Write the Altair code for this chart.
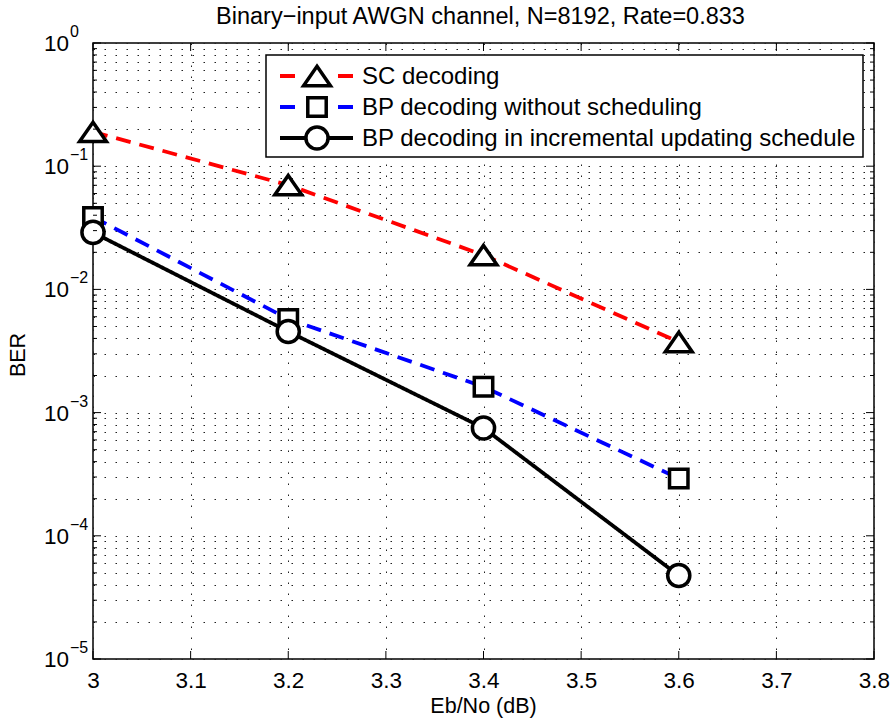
import altair as alt
import pandas as pd

# ---------------- data ----------------
ebno = [3.0, 3.2, 3.4, 3.6]
ber_sc = [0.19, 0.0703, 0.019, 0.00374]
ber_bp = [0.0387, 0.00575, 0.00162, 0.000292]
ber_inc = [0.029, 0.00455, 0.00075, 0.0000476]

series_names = [
    "SC decoding",
    "BP decoding without scheduling",
    "BP decoding in incremental updating schedule",
]
series_values = [ber_sc, ber_bp, ber_inc]

x_ticks = [3.0, 3.1, 3.2, 3.3, 3.4, 3.5, 3.6, 3.7, 3.8]
y_decades = [1e-5, 1e-4, 1e-3, 1e-2, 1e-1, 1e0]
y_exponents = ["\u22125", "\u22124", "\u22123", "\u22122", "\u22121", "0"]
y_minor = [m * d for d in [1e-5, 1e-4, 1e-3, 1e-2, 1e-1] for m in range(2, 10)]

title_text = "Binary\u2212input AWGN channel, N=8192, Rate=0.833"
x_title = "Eb/No (dB)"
y_title = "BER"

# ---------------- styles ----------------
W, H = 781, 616
FONT = "Liberation Sans"
series_colors = ["#ff0000", "#0000ff", "#000000"]
series_dash = [[15, 9], [15, 9], [1, 0]]
legend_dash = [[15, 43], [15, 43], [1, 0]]
TRI = "M0,-0.72L1,0.72L-1,0.72Z"
series_shapes = [TRI, "square", "circle"]
series_sizes = [720, 340, 490]

rows = []
for name, vals in zip(series_names, series_values):
    for x, y in zip(ebno, vals):
        rows.append({"series": name, "ebno": x, "ber": y})
df = pd.DataFrame(rows)

xs = alt.Scale(domain=[3.0, 3.8], nice=False, zero=False)
ys = alt.Scale(type="log", domain=[1e-5, 1.0], nice=False)

xaxis = alt.Axis(values=x_ticks, format="~g", grid=True, gridDash=[1.5, 9.5],
                 gridColor="#222222", gridWidth=1, ticks=False, domain=False,
                 labelFont=FONT, labelFontSize=22.5, labelColor="black",
                 labelPadding=10, title=None, labelFlush=False)
yaxis = alt.Axis(values=y_decades + y_minor, grid=True, gridDash=[1.5, 9.5],
                 gridColor="#222222", gridWidth=1, ticks=False, domain=False,
                 labels=False, title=None)

X = alt.X("ebno:Q", scale=xs, axis=xaxis)
Y = alt.Y("ber:Q", scale=ys, axis=yaxis)

layers = []

# data lines
layers.append(
    alt.Chart(df).mark_line(strokeWidth=3.8).encode(
        x=X, y=Y,
        color=alt.Color("series:N", scale=alt.Scale(domain=series_names, range=series_colors), legend=None),
        strokeDash=alt.StrokeDash("series:N", scale=alt.Scale(domain=series_names, range=series_dash), legend=None),
        detail="series:N",
    )
)

# markers
for name, shp, sz in zip(series_names, series_shapes, series_sizes):
    layers.append(
        alt.Chart(df).transform_filter(alt.datum.series == name).mark_point(
            shape=shp, size=sz, filled=True, fill="white", stroke="black",
            strokeWidth=3.5, opacity=1, fillOpacity=1, strokeJoin="miter"
        ).encode(x=X, y=Y)
    )

# inward ticks (y)
ymaj = pd.DataFrame({"ber": y_decades})
ymin = pd.DataFrame({"ber": y_minor})
for data, ln in [(ymaj, 8), (ymin, 4)]:
    layers.append(alt.Chart(data).mark_rule(color="black", strokeWidth=1).encode(
        y=Y, x=alt.value(0), x2=alt.value(ln)))
    layers.append(alt.Chart(data).mark_rule(color="black", strokeWidth=1).encode(
        y=Y, x=alt.value(W), x2=alt.value(W - ln)))
# inward ticks (x)
xt = pd.DataFrame({"ebno": x_ticks})
layers.append(alt.Chart(xt).mark_rule(color="black", strokeWidth=1).encode(
    x=X, y=alt.value(H), y2=alt.value(H - 8)))
layers.append(alt.Chart(xt).mark_rule(color="black", strokeWidth=1).encode(
    x=X, y=alt.value(0), y2=alt.value(8)))

# y tick labels 10^k
ylab = pd.DataFrame({"ber": y_decades, "exp": y_exponents})
layers.append(alt.Chart(ylab).mark_text(
    text="10", align="right", baseline="middle", font=FONT, fontSize=22.5, color="black", dy=1
).encode(y=Y, x=alt.value(-24)))
layers.append(alt.Chart(ylab).mark_text(
    align="left", baseline="middle", font=FONT, fontSize=16, color="black", dy=-11
).encode(y=Y, x=alt.value(-23), text="exp:N"))

# legend box
one = pd.DataFrame({"k": [0]})
layers.append(alt.Chart(one).mark_rect(fill="white", stroke="black", strokeWidth=1.5).encode(
    x=alt.value(173), x2=alt.value(770), y=alt.value(12), y2=alt.value(114)))

legend_rows_y = [33, 64, 95]
for name, col, dsh, shp, sz, ly in zip(series_names, series_colors, legend_dash,
                                        series_shapes, series_sizes, legend_rows_y):
    d = pd.DataFrame({"series": [name]})
    layers.append(alt.Chart(d).mark_rule(color=col, strokeWidth=3.8, strokeDash=dsh).encode(
        x=alt.value(187), x2=alt.value(260), y=alt.value(ly)))
    layers.append(alt.Chart(d).mark_point(
        shape=shp, size=sz, filled=True, fill="white", stroke="black",
        strokeWidth=3.5, opacity=1, fillOpacity=1, strokeJoin="miter"
    ).encode(x=alt.value(224), y=alt.value(ly)))
    layers.append(alt.Chart(d).mark_text(
        align="left", baseline="middle", font=FONT, fontSize=24, color="black", dy=1
    ).encode(x=alt.value(269), y=alt.value(ly), text="series:N"))

# titles
layers.append(alt.Chart(one).mark_text(
    text=title_text, align="center", baseline="middle", font=FONT, fontSize=23.5, color="black"
).encode(x=alt.value(W / 2 - 3), y=alt.value(-26)))
layers.append(alt.Chart(one).mark_text(
    text=x_title, align="center", baseline="middle", font=FONT, fontSize=21.5, color="black"
).encode(x=alt.value(W / 2), y=alt.value(H + 48)))
layers.append(alt.Chart(one).mark_text(
    text=y_title, align="center", baseline="middle", font=FONT, fontSize=21.5, color="black",
    angle=270
).encode(x=alt.value(-74), y=alt.value(H / 2 + 4)))

chart = alt.layer(*layers).properties(
    width=W, height=H,
    autosize=alt.AutoSizeParams(type="none"),
    padding={"left": 93, "top": 43, "right": 21, "bottom": 66},
    background="white",
).configure_view(stroke="black", strokeWidth=1.5)

chart.save("out.html", embed_options={"renderer": "svg", "actions": False})
